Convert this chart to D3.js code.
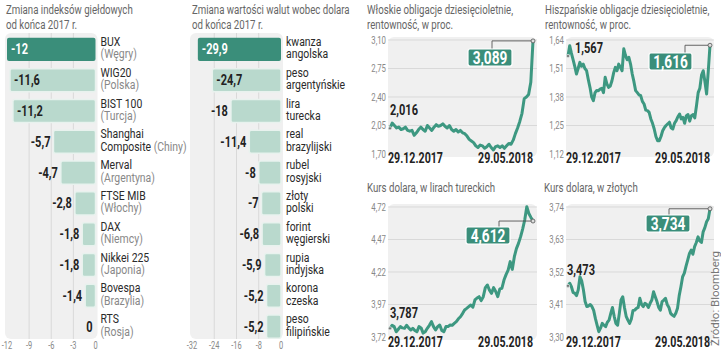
<!DOCTYPE html>
<html><head><meta charset="utf-8">
<script src="https://cdn.jsdelivr.net/npm/d3@7"></script>
<style>body{margin:0;background:#fff} svg{display:block}</style>
</head><body><svg id="c" width="721" height="351"></svg>
<script>
// ---------- DATA ----------
const indexNames = ["BUX","WIG20","BIST 100","Shanghai","Merval","FTSE MIB","DAX","Nikkei 225","Bovespa","RTS"];
const indexName2 = ["","","","Composite","","","","","",""];
const indexCountry = ["Węgry","Polska","Turcja","Chiny","Argentyna","Włochy","Niemcy","Japonia","Brazylia","Rosja"];
const indexValues = [-12,-11.6,-11.2,-5.7,-4.7,-2.8,-1.8,-1.8,-1.4,0];
const indexTicks = [-12,-9,-6,-3,0];

const currencyLine1 = ["kwanza","peso","lira","real","rubel","złoty","forint","rupia","korona","peso"];
const currencyLine2 = ["angolska","argentyńskie","turecka","brazylijski","rosyjski","polski","węgierski","indyjska","czeska","filipińskie"];
const currencyValues = [-29.9,-24.7,-18,-11.4,-8,-7,-6.8,-5.9,-5.2,-5.2];
const currencyTicks = [-32,-24,-16,-8,0];

const dateLabels = ["29.12.2017","29.05.2018"];

const italyYield = [2.016,2.08,2.05,2.02,2.03,2.00,2.01,2.03,1.99,1.98,1.99,1.93,1.96,2.00,2.03,2.00,1.98,2.05,2.02,1.99,2.03,2.06,2.04,2.05,2.07,2.04,2.02,2.05,2.00,1.98,2.00,1.97,1.99,1.96,1.95,1.92,1.88,1.86,1.84,1.80,1.78,1.81,1.80,1.77,1.79,1.82,1.78,1.75,1.79,1.80,1.78,1.80,1.77,1.80,1.83,1.82,1.87,1.95,2.02,2.10,2.20,2.38,2.40,2.43,2.58,3.089];
const italyTicks = [1.70,2.05,2.40,2.75,3.10];

const spainYield = [1.567,1.614,1.58,1.55,1.52,1.485,1.51,1.538,1.52,1.53,1.51,1.50,1.46,1.424,1.38,1.363,1.40,1.41,1.409,1.416,1.42,1.40,1.47,1.44,1.424,1.43,1.454,1.49,1.515,1.50,1.53,1.515,1.50,1.60,1.57,1.55,1.561,1.53,1.485,1.45,1.409,1.40,1.39,1.386,1.36,1.348,1.32,1.318,1.31,1.28,1.26,1.234,1.20,1.181,1.181,1.20,1.226,1.24,1.25,1.257,1.265,1.24,1.234,1.26,1.272,1.29,1.302,1.28,1.287,1.26,1.295,1.30,1.27,1.295,1.30,1.285,1.34,1.40,1.42,1.48,1.50,1.45,1.394,1.50,1.616];
const spainTicks = [1.12,1.25,1.38,1.51,1.64];

const usdTry = [3.787,3.81,3.80,3.76,3.78,3.80,3.79,3.787,3.81,3.79,3.774,3.787,3.77,3.76,3.80,3.79,3.75,3.76,3.787,3.81,3.838,3.80,3.774,3.80,3.812,3.77,3.76,3.80,3.80,3.812,3.81,3.825,3.838,3.86,3.876,3.90,3.928,3.94,3.953,3.966,3.95,4.005,4.02,4.03,4.00,4.03,4.10,4.12,4.08,4.056,4.10,4.07,4.03,4.09,4.095,4.158,4.20,4.235,4.30,4.24,4.338,4.40,4.44,4.49,4.55,4.62,4.722,4.67,4.64,4.612];
const usdTryTicks = [3.72,3.97,4.22,4.47,4.72];

const usdPln = [3.473,3.482,3.47,3.45,3.448,3.44,3.46,3.504,3.49,3.46,3.42,3.403,3.405,3.41,3.403,3.39,3.363,3.34,3.318,3.33,3.346,3.34,3.335,3.35,3.357,3.38,3.40,3.37,3.346,3.34,3.38,3.425,3.436,3.40,3.37,3.357,3.346,3.36,3.39,3.391,3.397,3.40,3.431,3.41,3.403,3.414,3.41,3.40,3.414,3.425,3.453,3.436,3.42,3.40,3.391,3.42,3.425,3.431,3.41,3.40,3.38,3.374,3.37,3.38,3.397,3.44,3.47,3.504,3.516,3.54,3.561,3.583,3.594,3.58,3.606,3.62,3.639,3.625,3.62,3.656,3.67,3.69,3.70,3.734];
const usdPlnTicks = [3.30,3.41,3.52,3.63,3.74];

// ---------- STYLE ----------
const FONT = "Roboto,'Liberation Sans',sans-serif";
const DARK = "#3a8e7a", LINE = "#3d9881", LIGHT = "#b9d9cd", BG = "#f0f0f0", GRID = "#d9d9d9";
const svg = d3.select("#c");
const comma = s => s.replace(".", ",");

// calibrate horizontal condensing so the regular font imitates the narrow original
function measure(str, size, weight) {
  const t = svg.append("text").attr("font-family", FONT).attr("font-size", size).attr("font-weight", weight).text(str);
  const w = t.node().getComputedTextLength(); t.remove(); return w;
}
const K_REG = 127 / measure("Zmiana indeksów giełdowych", 13, "normal");
const K_BOLD = 55 / measure("29.12.2017", 14, "bold");

function txt(parent, x, y, str, o = {}) {
  const k = o.k || (o.bold ? K_BOLD : K_REG);
  return parent.append("text")
    .attr("transform", `translate(${x},${y}) scale(${k},1)`)
    .attr("text-anchor", o.anchor || "start")
    .attr("font-family", FONT).attr("font-size", o.size || 12)
    .attr("font-weight", o.bold ? "bold" : "normal")
    .attr("fill", o.fill || "#222").text(str);
}

function title(x, y, lines) {
  lines.forEach((t, i) => txt(svg, x, y + i * 15, t, { size: 13, fill: "#666" }));
}

// ---------- BAR PANELS ----------
function bars(o) {
  const g = svg.append("g");
  const x = d3.scaleLinear().domain([o.ticks[0], 0]).range(o.xr);
  const y = d3.scaleBand().domain(d3.range(o.values.length)).range([34, 342]).paddingInner(0.25).paddingOuter(0.125);
  g.append("rect").attr("x", o.xr[0] - 2).attr("y", 33).attr("width", o.xr[1] - o.xr[0] + 4).attr("height", 306)
    .attr("rx", 6).attr("fill", BG);
  g.selectAll(".gl").data(o.ticks.slice(1, -1)).join("line")
    .attr("x1", d => x(d)).attr("x2", d => x(d)).attr("y1", 33).attr("y2", 339)
    .attr("stroke", GRID).attr("stroke-width", 1);
  o.ticks.forEach(t => txt(g, x(t), 349, String(t), { anchor: "middle", size: 10, fill: "#888" }));
  const kName = K_REG * 1.08;
  o.values.forEach((v, i) => {
    const w = x(0) - x(v), yc = y(i) + y.bandwidth() / 2;
    if (w > 0) g.append("rect").attr("x", x(v)).attr("y", y(i)).attr("width", w).attr("height", y.bandwidth())
      .attr("rx", 2).attr("fill", i === 0 ? DARK : LIGHT).attr("stroke", i === 0 ? "none" : "#e8f2ee").attr("stroke-width", 1.5);
    const inside = w > 60;
    txt(g, inside ? x(v) + 4 : x(v) - 3, yc + 5, comma(String(v)),
      { anchor: inside ? "start" : "end", bold: true, size: 14.5, fill: i === 0 ? "#fff" : "#222" });
    txt(g, x(0) + 5, yc - 3.5, o.line1[i], { size: 13, fill: "#2a2a2a", k: kName });
    const t2 = txt(g, x(0) + 5, yc + 9, "", { size: 13, k: kName });
    o.line2(t2, i);
  });
}

bars({ values: indexValues, ticks: indexTicks, xr: [7, 95.5], line1: indexNames,
  line2: (t, i) => {
    if (indexName2[i]) t.append("tspan").attr("fill", "#2a2a2a").text(indexName2[i] + " ");
    t.append("tspan").attr("fill", "#888").text("(" + indexCountry[i] + ")");
  } });
bars({ values: currencyValues, ticks: currencyTicks, xr: [192, 281], line1: currencyLine1,
  line2: (t, i) => t.attr("fill", "#2a2a2a").text(currencyLine2[i]) });

title(6, 14, ["Zmiana indeksów giełdowych", "od końca 2017 r."]);
title(192, 14, ["Zmiana wartości walut wobec dolara", "od końca 2017 r."]);

// ---------- LINE PANELS ----------
function linePanel(o) {
  const g = svg.append("g");
  const n = o.data.length;
  const x = d3.scaleLinear().domain([0, n - 1]).range(o.xr);
  const y = d3.scaleLinear().domain([o.ticks[0], o.ticks[o.ticks.length - 1]]).range(o.yr);
  g.append("rect").attr("x", o.xr[0] - 2).attr("y", o.yr[1] - 3).attr("width", o.xr[1] - o.xr[0] + 6)
    .attr("height", o.yr[0] - o.yr[1] + 6).attr("rx", 6).attr("fill", BG);
  g.selectAll(".hg").data(o.ticks.slice(1)).join("line")
    .attr("x1", o.xr[0] - 2).attr("x2", o.xr[1] + 4).attr("y1", d => y(d)).attr("y2", d => y(d))
    .attr("stroke", GRID).attr("stroke-width", 1);
  o.ticks.forEach(t => txt(g, o.xr[0] - 4, y(t) + 3.5, comma(d3.format(".2f")(t)), { anchor: "end", size: 10.5, fill: "#888" }));
  // line
  g.append("path").datum(o.data).attr("fill", "none").attr("stroke", LINE).attr("stroke-width", 3)
    .attr("stroke-linejoin", "round").attr("stroke-linecap", "round")
    .attr("d", d3.line().x((d, i) => x(i)).y(d => y(d)));
  // dates
  txt(g, x(0) - 2, o.dateY, dateLabels[0], { bold: true, size: 14 });
  txt(g, x(n - 1), o.dateY, dateLabels[1], { bold: true, size: 14, anchor: "end" });
  // start
  g.append("circle").attr("cx", x(0)).attr("cy", y(o.data[0])).attr("r", 1.6).attr("fill", "#777").attr("stroke", "#fff").attr("stroke-width", 0.6);
  txt(g, o.startX, o.startY, comma(d3.format(".3f")(o.data[0])), { bold: true, size: 14.5 });
  // end box + connector
  const last = o.data[n - 1], ex = x(n - 1), ey = y(last);
  g.append("path").attr("d", `M${o.connX},${o.box[1]}V${ey}H${ex}`).attr("fill", "none").attr("stroke", "#555").attr("stroke-width", 0.9);
  g.append("rect").attr("x", o.box[0]).attr("y", o.box[1]).attr("width", o.box[2]).attr("height", o.box[3])
    .attr("rx", 2).attr("fill", DARK).attr("stroke", "#fff").attr("stroke-width", 1.2);
  txt(g, o.box[0] + o.box[2] / 2, o.box[1] + o.box[3] / 2 + 6.5, comma(d3.format(".3f")(last)),
    { bold: true, size: 18, fill: "#fff", anchor: "middle" });
  g.append("circle").attr("cx", ex).attr("cy", ey).attr("r", 2).attr("fill", "#ddd").attr("stroke", "#555").attr("stroke-width", 0.8);
  title(o.titleX, o.titleY, o.title);
}

linePanel({ data: italyYield, ticks: italyTicks, xr: [390, 533], yr: [154, 40], dateY: 163,
  startX: 390, startY: 115, box: [468, 49, 44, 17], connX: 492,
  titleX: 367, titleY: 14, title: ["Włoskie obligacje dziesięcioletnie,", "rentowność, w proc."] });
linePanel({ data: spainYield, ticks: spainTicks, xr: [568, 710], yr: [154, 40], dateY: 163,
  startX: 575, startY: 53, box: [649, 53, 43, 17], connX: 685,
  titleX: 545, titleY: 14, title: ["Hiszpańskie obligacje dziesięcioletnie,", "rentowność, w proc."] });
linePanel({ data: usdTry, ticks: usdTryTicks, xr: [390, 533], yr: [337, 207], dateY: 347,
  startX: 390, startY: 318, box: [466, 227, 44, 17], connX: 499,
  titleX: 367, titleY: 192, title: ["Kurs dolara, w lirach tureckich"] });
linePanel({ data: usdPln, ticks: usdPlnTicks, xr: [568, 710], yr: [337, 207], dateY: 347,
  startX: 567, startY: 275, box: [646, 215, 44, 17], connX: 669,
  titleX: 544, titleY: 192, title: ["Kurs dolara, w złotych"] });

svg.append("text").attr("transform", "translate(719,346) rotate(-90)")
  .attr("font-family", FONT).attr("font-size", 11.5).attr("fill", "#777").text("Źródło: Bloomberg");
</script></body></html>
